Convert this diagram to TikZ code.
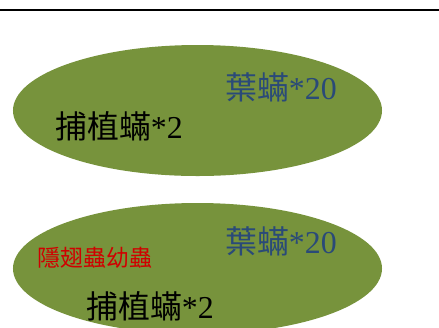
\documentclass[tikz,border=0pt]{standalone}
\usepackage{fontspec}
\setmainfont{Liberation Serif}
\newfontfamily\cjk{Noto Sans CJK TC}
\usetikzlibrary{shapes.geometric}
\definecolor{olivefill}{HTML}{77933C}
\definecolor{miteblue}{HTML}{2A4A78}
\definecolor{beetlered}{HTML}{D00000}
\tikzset{
  bubble/.style={ellipse, fill=olivefill, draw=none, inner sep=0pt, minimum width=369bp, minimum height=131bp},
  bigtext/.style={inner sep=0pt, font=\fontsize{32}{32}\selectfont, anchor=center},
  smalltext/.style={inner sep=0pt, font=\fontsize{23}{23}\selectfont, anchor=center, text=beetlered},
}
\begin{document}
\begin{tikzpicture}[x=1bp,y=-1bp]
\useasboundingbox (0,0) rectangle (439,327);
\clip (0,0) rectangle (439,327);
\coordinate (l1) at (0,10);
\coordinate (l2) at (439,10);
\draw[line width=2bp] (l1) -- (l2);
\node[bubble] (e1) at (197.5,110.5) {};
\node[bubble] (e2) at (197.5,268.5) {};
\node[bigtext, text=miteblue] (a1) at (281,87) {{\cjk 葉蟎}*20};
\node[bigtext, text=black] (b1) at (119,126) {{\cjk 捕植蟎}*2};
\node[bigtext, text=miteblue] (a2) at (281,241) {{\cjk 葉蟎}*20};
\node[smalltext] (c2) at (95,258) {{\cjk 隱翅蟲幼蟲}};
\node[bigtext, text=black] (b2) at (150,306) {{\cjk 捕植蟎}*2};
\end{tikzpicture}
\end{document}
